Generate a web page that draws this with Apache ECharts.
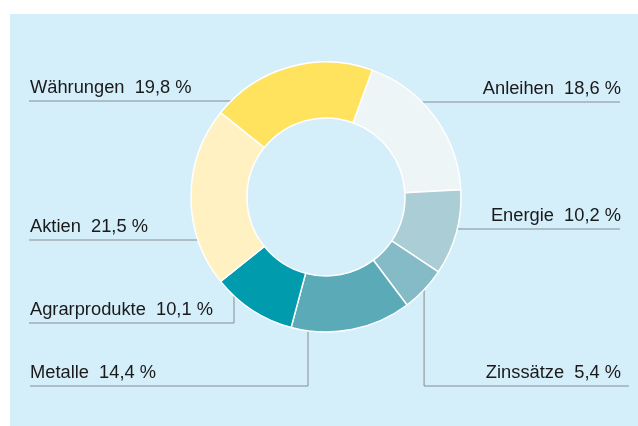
<!DOCTYPE html>
<html>
<head>
<meta charset="utf-8">
<script src="https://cdn.jsdelivr.net/npm/echarts@6/dist/echarts.min.js"></script>
<style>
  html, body { margin: 0; padding: 0; background: #ffffff; }
  #chart { width: 638px; height: 426px; }
</style>
</head>
<body>
<div id="chart"></div>
<script>
// Anteile in Prozent, im Uhrzeigersinn ab Anleihen
var categories = ['Anleihen', 'Energie', 'Zinssätze', 'Metalle', 'Agrarprodukte', 'Aktien', 'Währungen'];
var shares = [18.6, 10.2, 5.4, 14.4, 10.1, 21.5, 19.8];
var colors = ['#eef5f6', '#abcdd6', '#84bbc7', '#5aaab8', '#009bac', '#fff1c1', '#ffe25e'];

// Lage der Beschriftungen (Layout, keine Daten)
var cx = 326, cy = 197, rOut = 135, rIn = 79;
var slots = {
    'Anleihen':      {side: 'right', y: 102, end: 620},
    'Energie':       {side: 'right', y: 229, end: 620},
    'Zinssätze':     {side: 'right', y: 386, end: 629, elbow: 'mid'},
    'Metalle':       {side: 'left',  y: 386, end: 30,  elbow: 308},
    'Agrarprodukte': {side: 'left',  y: 323, end: 29,  elbow: 234},
    'Aktien':        {side: 'left',  y: 240, end: 29},
    'Währungen':     {side: 'left',  y: 101, end: 29}
};

function fmt(v) {
    return v.toFixed(1).replace('.', ',');
}

function edgeX(y, side) {
    var d = Math.sqrt(rOut * rOut - (y - cy) * (y - cy));
    return side == 'left' ? cx - d : cx + d;
}

function edgeY(x) {
    return cy + Math.sqrt(rOut * rOut - (x - cx) * (x - cx));
}

var myChart = echarts.init(document.getElementById('chart'));

var pieData = [];
for (var i = 0; i < categories.length; i++) {
    pieData.push({name: categories[i], value: shares[i], itemStyle: {color: colors[i]}});
}

option = {
    backgroundColor: '#ffffff',
    animation: false,
    graphic: [{
        type: 'rect',
        silent: true,
        z: -10,
        shape: {x: 10, y: 14, width: 628, height: 412},
        style: {fill: '#d4eefa'}
    }],
    series: [{
        type: 'pie',
        center: [cx, cy],
        radius: [rIn, rOut],
        startAngle: 70,
        clockwise: true,
        avoidLabelOverlap: false,
        data: pieData,
        itemStyle: {
            borderColor: '#ffffff',
            borderWidth: 1.5
        },
        label: {
            show: true,
            formatter: function (p) {
                return p.name + '  ' + fmt(p.value) + ' %';
            },
            fontFamily: 'Liberation Sans',
            fontSize: 18.3,
            lineHeight: 18,
            color: '#1a1a1a'
        },
        labelLine: {
            show: true,
            lineStyle: {color: '#878d92', width: 1}
        },
        labelLayout: function (params) {
            var name = categories[params.dataIndex];
            var s = slots[name];
            var pts;
            if (s.elbow == null) {
                pts = [[edgeX(s.y, s.side), s.y], [s.end, s.y]];
            } else {
                var ex = s.elbow == 'mid' ? params.labelLinePoints[0][0] : s.elbow;
                pts = [[ex, edgeY(ex)], [ex, s.y], [s.end, s.y]];
            }
            return {
                x: s.side == 'left' ? 30 : 621,
                y: s.y - 4,
                align: s.side,
                verticalAlign: 'bottom',
                labelLinePoints: pts
            };
        }
    }]
};

myChart.setOption(option);
</script>
</body>
</html>
